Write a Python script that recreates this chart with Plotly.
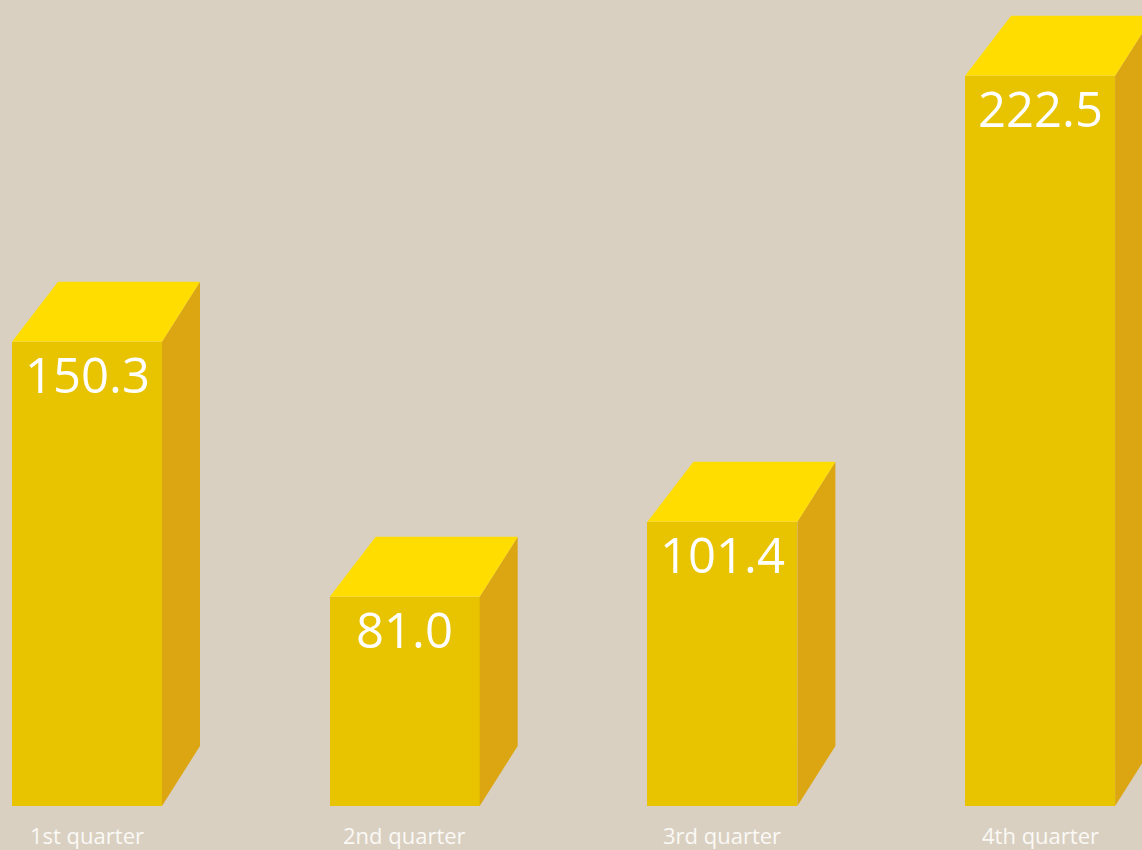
import plotly.graph_objects as go

categories = ["1st quarter", "2nd quarter", "3rd quarter", "4th quarter"]
values = [150.3, 81.0, 101.4, 222.5]
value_labels = ["150.3", "81.0", "101.4", "222.5"]

BG = "#d9d0c2"
FRONT = "#e8c300"
TOP = "#ffdd00"
SIDE = "#dca512"

W, H = 1142, 850
BASE = 24.2           # value at the floor of the axis
PX_PER_UNIT = 3.682
SPACING_PX = 317.7
CENTER0_PX = 87
BAR_W = 150 / SPACING_PX
DX_R = 38 / SPACING_PX
DX_L = 46 / SPACING_PX
DY = 60 / PX_PER_UNIT

x_lo = -CENTER0_PX / SPACING_PX
x_hi = (W - CENTER0_PX) / SPACING_PX
y_hi = BASE + 806 / PX_PER_UNIT
y_lo = BASE - (H - 806) / PX_PER_UNIT

xs = list(range(len(categories)))

fig = go.Figure()

for i, v in zip(xs, values):
    x0, x1 = i - BAR_W / 2, i + BAR_W / 2
    # side face
    fig.add_trace(go.Scatter(
        x=[x1, x1 + DX_R, x1 + DX_R, x1, x1],
        y=[BASE, BASE + DY, v + DY, v, BASE],
        fill="toself", fillcolor=SIDE, mode="lines",
        line=dict(width=0, color=SIDE), hoverinfo="skip", showlegend=False))
    # top face
    fig.add_trace(go.Scatter(
        x=[x0, x0 + DX_L, x1 + DX_R, x1, x0],
        y=[v, v + DY, v + DY, v, v],
        fill="toself", fillcolor=TOP, mode="lines",
        line=dict(width=0, color=TOP), hoverinfo="skip", showlegend=False))

fig.add_trace(go.Bar(
    x=xs, y=[v - BASE for v in values], base=BASE, width=BAR_W,
    marker=dict(color=FRONT, line=dict(width=0)), showlegend=False,
    hovertext=categories))

for i, v, lab, cat in zip(xs, values, value_labels, categories):
    fig.add_annotation(x=i, y=v, yshift=-32, text=lab, showarrow=False,
                       xanchor="center", yanchor="middle",
                       font=dict(family="Open Sans, Noto Sans, sans-serif", size=49, color="white"))
    fig.add_annotation(x=i, y=BASE, yshift=-29, text=cat, showarrow=False,
                       xanchor="center", yanchor="middle", borderpad=0,
                       font=dict(family="Open Sans, Noto Sans, sans-serif", size=22, color="#fbf9f5"))

fig.update_layout(
    width=W, height=H, margin=dict(l=0, r=0, t=0, b=0),
    paper_bgcolor=BG, plot_bgcolor=BG, bargap=0,
    xaxis=dict(range=[x_lo, x_hi], visible=False, fixedrange=True),
    yaxis=dict(range=[y_lo, y_hi], visible=False, fixedrange=True),
)

fig.write_html("out.html", config={"displayModeBar": False},
               post_script="document.body.style.margin='0';document.body.style.padding='0';document.body.style.background='" + BG + "';")
